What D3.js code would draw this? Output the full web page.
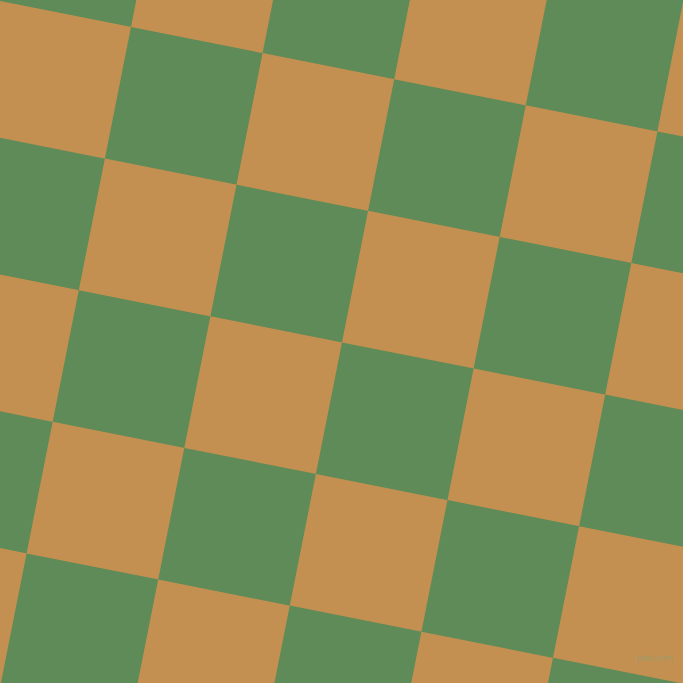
<!DOCTYPE html>
<html>
<head>
<meta charset="utf-8">
<script src="https://cdn.jsdelivr.net/npm/d3@7"></script>
<style>
  body { margin: 0; }
  svg { display: block; }
</style>
</head>
<body>
<div class="container"></div>
<script>
const w = 683
const h = 683

// tile indices along the two grid directions
const cols = [-2, -1, 0, 1, 2, 3, 4, 5, 6]
const rows = [-2, -1, 0, 1, 2, 3, 4, 5, 6]
const colors = ["#5e8b57", "#c39051"]

const origin = [131, 27]
const angle = Math.atan2(26.1, 131.6) * 180 / Math.PI
const side = Math.hypot(131.6, 26.1)

const scale = d3.scaleLinear()
                .domain([0, 1])
                .range([0, side])

const cells = []
rows.forEach(r => cols.forEach(c => cells.push({ r, c })))

const svg = d3.select(".container")
              .append("svg")
              .attr("width", w)
              .attr("height", h)

svg.append("rect")
    .attr("width", w)
    .attr("height", h)
    .style("fill", colors[1])

const grid = svg.append("g")
                .attr("transform", `translate(${origin[0]}, ${origin[1]}) rotate(${angle})`)

grid.selectAll("rect")
    .data(cells)
    .enter()
    .append("rect")
      .attr("x", d => scale(d.c))
      .attr("y", d => scale(d.r))
      .attr("width", scale(1) + 0.5)
      .attr("height", scale(1) + 0.5)
      .style("fill", d => colors[Math.abs(d.r + d.c) % 2])

svg.append("text")
    .text("pixlis.com")
    .attr("x", 673)
    .attr("y", 661)
    .attr("text-anchor", "end")
    .attr("textLength", 37)
    .style("font-family", "DejaVu Sans, sans-serif")
    .style("font-size", "9px")
    .style("fill", "#a39a68")
</script>
</body>
</html>
